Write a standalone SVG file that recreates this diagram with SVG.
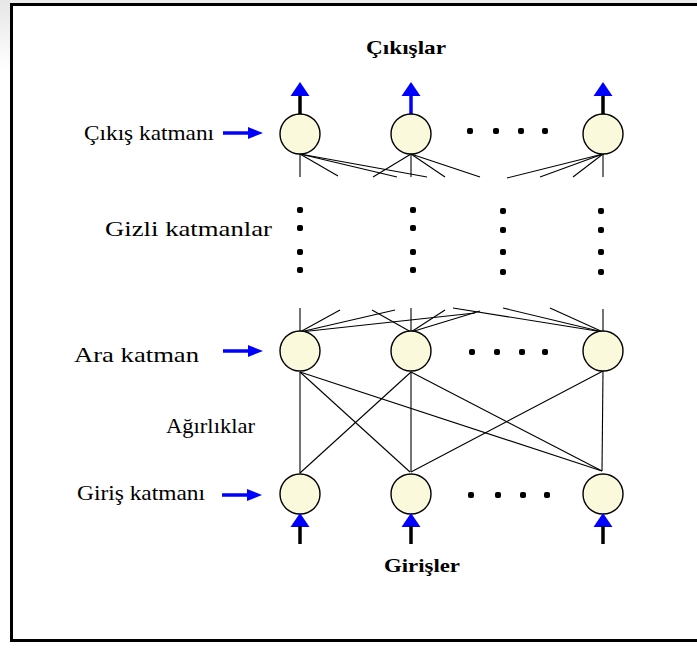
<svg xmlns="http://www.w3.org/2000/svg" width="697" height="649" viewBox="0 0 697 649">
  <style>
    .label { font-family: "Liberation Serif", "Times New Roman", serif; font-size: 22px; fill: #000; }
    .title { font-family: "Liberation Serif", "Times New Roman", serif; font-size: 19px; font-weight: bold; fill: #000; }
    .neuron { fill: #fbf9dc; stroke: #000; stroke-width: 1.4; }
    .w { stroke: #000; stroke-width: 1.1; fill: none; }
    .shaft { stroke: #000; stroke-width: 3.5; }
    .bshaft { stroke: #0000ff; stroke-width: 3.5; }
    .head { fill: #0000ff; }
    .dot { fill: #000; }
  </style>
  <defs>
    <linearGradient id="shade" x1="0" y1="0" x2="0" y2="1">
      <stop offset="0" stop-color="#e6e6e6"/>
      <stop offset="1" stop-color="#ffffff"/>
    </linearGradient>
    <!-- upward arrow: tip at 0,0 -->
    <g id="upHead"><polygon class="head" points="0,0 -9.5,14 9.5,14"/></g>
    <!-- rightward arrow used for layer labels -->
    <g id="pointer">
      <line class="bshaft" x1="0" y1="0" x2="28" y2="0" stroke-width="4"/>
      <polygon class="head" points="25,-6 40,0 25,6"/>
    </g>
    <rect id="hd" x="-3" y="-3" width="6" height="6" rx="2"/>
  </defs>

  <!-- page and frame -->
  <rect x="0" y="0" width="697" height="649" fill="#fff"/>
  <rect x="0" y="0" width="697" height="3" fill="#ececec"/>
  <rect x="0" y="0" width="10" height="70" fill="url(#shade)"/>
  <rect x="11.5" y="4.5" width="700" height="636" fill="none" stroke="#000" stroke-width="3"/>

  <!-- connectors -->
  <g id="connectors">
    <!-- output layer stubs towards hidden layers -->
    <line class="w" x1="300" y1="154" x2="300" y2="177"/>
    <line class="w" x1="300" y1="154" x2="338" y2="176"/>
    <line class="w" x1="300" y1="154" x2="397" y2="177"/>
    <line class="w" x1="300" y1="154" x2="427" y2="177"/>
    <line class="w" x1="411" y1="154" x2="373" y2="177"/>
    <line class="w" x1="411" y1="154" x2="411" y2="177"/>
    <line class="w" x1="411" y1="154" x2="445" y2="177"/>
    <line class="w" x1="411" y1="154" x2="480" y2="177"/>
    <line class="w" x1="603" y1="154" x2="507" y2="178"/>
    <line class="w" x1="603" y1="154" x2="540" y2="177"/>
    <line class="w" x1="603" y1="154" x2="573" y2="177"/>
    <line class="w" x1="603" y1="154" x2="603" y2="177"/>
    <!-- intermediate layer stubs towards hidden layers -->
    <line class="w" x1="300" y1="332" x2="300" y2="308"/>
    <line class="w" x1="300" y1="332" x2="340" y2="310"/>
    <line class="w" x1="300" y1="332" x2="395" y2="310"/>
    <line class="w" x1="300" y1="332" x2="475" y2="313"/>
    <line class="w" x1="411" y1="332" x2="372" y2="310"/>
    <line class="w" x1="411" y1="332" x2="411" y2="308"/>
    <line class="w" x1="411" y1="332" x2="445" y2="310"/>
    <line class="w" x1="411" y1="332" x2="480" y2="311"/>
    <line class="w" x1="603" y1="332" x2="453" y2="308"/>
    <line class="w" x1="603" y1="332" x2="503" y2="308"/>
    <line class="w" x1="603" y1="332" x2="550" y2="308"/>
    <line class="w" x1="603" y1="332" x2="603" y2="309"/>
    <!-- weights between input and intermediate layers -->
    <line class="w" x1="300" y1="372" x2="300" y2="473"/>
    <line class="w" x1="300" y1="372" x2="410" y2="472"/>
    <line class="w" x1="300" y1="372" x2="602" y2="471"/>
    <line class="w" x1="411" y1="372" x2="300" y2="473"/>
    <line class="w" x1="411" y1="372" x2="411" y2="472"/>
    <line class="w" x1="411" y1="372" x2="602" y2="471"/>
    <line class="w" x1="603" y1="371" x2="411" y2="472"/>
    <line class="w" x1="603" y1="371" x2="602" y2="471"/>
  </g>

  <!-- output layer -->
  <g id="out1">
    <line class="shaft" x1="300" y1="115" x2="300" y2="95"/>
    <use href="#upHead" x="300" y="82"/>
    <circle class="neuron" cx="300" cy="134" r="20"/>
  </g>
  <g id="out2">
    <line class="bshaft" x1="411" y1="115" x2="411" y2="95"/>
    <use href="#upHead" x="411" y="82"/>
    <circle class="neuron" cx="411" cy="134" r="20"/>
  </g>
  <g id="out3">
    <line class="shaft" x1="603" y1="115" x2="603" y2="95"/>
    <use href="#upHead" x="603" y="82"/>
    <circle class="neuron" cx="603" cy="134" r="20"/>
  </g>
  <g id="outDots">
    <use class="dot" href="#hd" x="470" y="131"/>
    <use class="dot" href="#hd" x="496" y="131"/>
    <use class="dot" href="#hd" x="521" y="131"/>
    <use class="dot" href="#hd" x="545" y="131"/>
  </g>

  <!-- hidden layers shown as dots -->
  <g id="hidden">
    <use class="dot" href="#hd" x="300" y="210"/>
    <use class="dot" href="#hd" x="300" y="228"/>
    <use class="dot" href="#hd" x="300" y="252"/>
    <use class="dot" href="#hd" x="300" y="270"/>
    <use class="dot" href="#hd" x="413" y="210"/>
    <use class="dot" href="#hd" x="413" y="228"/>
    <use class="dot" href="#hd" x="413" y="252"/>
    <use class="dot" href="#hd" x="413" y="270"/>
    <use class="dot" href="#hd" x="503" y="211"/>
    <use class="dot" href="#hd" x="503" y="230"/>
    <use class="dot" href="#hd" x="503" y="252"/>
    <use class="dot" href="#hd" x="503" y="272"/>
    <use class="dot" href="#hd" x="601" y="211"/>
    <use class="dot" href="#hd" x="601" y="230"/>
    <use class="dot" href="#hd" x="601" y="252"/>
    <use class="dot" href="#hd" x="601" y="272"/>
  </g>

  <!-- intermediate layer -->
  <g id="mid1"><circle class="neuron" cx="300" cy="351" r="20"/></g>
  <g id="mid2"><circle class="neuron" cx="411" cy="351" r="20"/></g>
  <g id="mid3"><circle class="neuron" cx="603" cy="351" r="20"/></g>
  <g id="midDots">
    <use class="dot" href="#hd" x="472" y="352"/>
    <use class="dot" href="#hd" x="497" y="352"/>
    <use class="dot" href="#hd" x="522" y="352"/>
    <use class="dot" href="#hd" x="545" y="352"/>
  </g>

  <!-- input layer -->
  <g id="in1">
    <circle class="neuron" cx="300" cy="494" r="20"/>
    <use href="#upHead" x="300" y="513"/>
    <line class="shaft" x1="300" y1="526" x2="300" y2="544"/>
  </g>
  <g id="in2">
    <circle class="neuron" cx="411" cy="494" r="20"/>
    <use href="#upHead" x="411" y="513"/>
    <line class="shaft" x1="411" y1="526" x2="411" y2="544"/>
  </g>
  <g id="in3">
    <circle class="neuron" cx="603" cy="494" r="20"/>
    <use href="#upHead" x="603" y="513"/>
    <line class="shaft" x1="603" y1="526" x2="603" y2="544"/>
  </g>
  <g id="inDots">
    <use class="dot" href="#hd" x="471" y="495"/>
    <use class="dot" href="#hd" x="498" y="495"/>
    <use class="dot" href="#hd" x="523" y="495"/>
    <use class="dot" href="#hd" x="547" y="495"/>
  </g>

  <!-- labels -->
  <g id="lblOutputs"><text class="title" x="366" y="54" textLength="80" lengthAdjust="spacingAndGlyphs">Çıkışlar</text></g>
  <g id="lblOutLayer">
    <text class="label" x="84" y="140" textLength="130" lengthAdjust="spacingAndGlyphs">Çıkış katmanı</text>
    <use href="#pointer" x="223" y="133"/>
  </g>
  <g id="lblHidden"><text class="label" x="105" y="236" textLength="167" lengthAdjust="spacingAndGlyphs">Gizli katmanlar</text></g>
  <g id="lblMid">
    <text class="label" x="74" y="362" textLength="125" lengthAdjust="spacingAndGlyphs">Ara katman</text>
    <use href="#pointer" x="223" y="351"/>
  </g>
  <g id="lblWeights"><text class="label" x="166" y="433" textLength="89" lengthAdjust="spacingAndGlyphs">Ağırlıklar</text></g>
  <g id="lblInLayer">
    <text class="label" x="77" y="500" textLength="128" lengthAdjust="spacingAndGlyphs">Giriş katmanı</text>
    <use href="#pointer" x="222" y="495"/>
  </g>
  <g id="lblInputs"><text class="title" x="384" y="572" textLength="76" lengthAdjust="spacingAndGlyphs">Girişler</text></g>
</svg>
